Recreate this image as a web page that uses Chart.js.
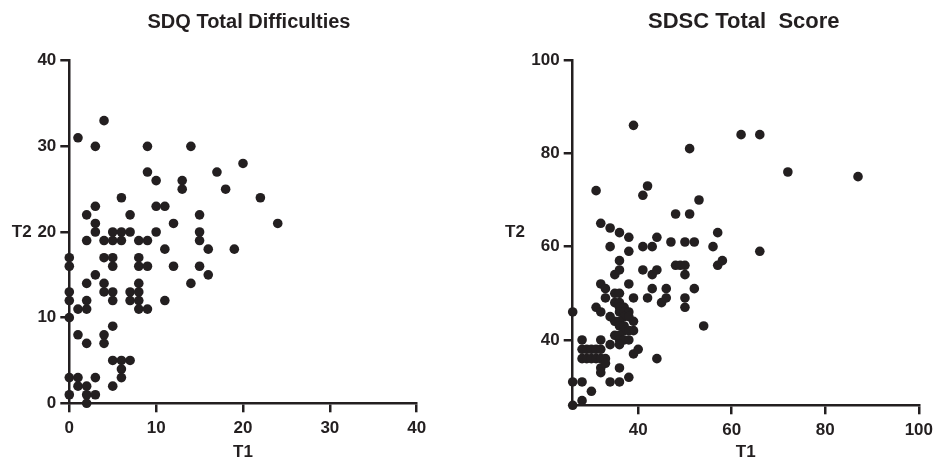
<!DOCTYPE html>
<html><head><meta charset="utf-8">
<script src="https://cdn.jsdelivr.net/npm/chart.js@4.4.1/dist/chart.umd.min.js"></script>
<style>
html,body{margin:0;padding:0;background:#fff;overflow:hidden;width:939px;height:460px;}
.box{position:absolute;top:0;height:460px;}
#b1{left:0;width:470px}
#b2{left:470px;width:469px}
</style></head><body>
<div class="box" id="b1"><canvas id="c1" width="470" height="460"></canvas></div>
<div class="box" id="b2"><canvas id="c2" width="469" height="460"></canvas></div>
<script>
// ---- SDQ Total Difficulties ----
const sdqTitle = 'SDQ Total Difficulties';
const sdqT1 = [1,4,3,9,14,9,10,13,13,17, 18,20,22,24,6,3,2,3,3,7, 10,11,12,15,15,15,16,19,16,15,
  12,14,5,6,7,10,2,4,5,6, 8,9,11,0,0,4,5,5,8,8, 9,3,2,4,4,5,5,8,7,8, 7,8,8,9,11,0,0,1,2,2,
  0,5,1,2,4,4,5,6,7,6, 6,5,0,1,3,1,2,0,2,3, 2];
const sdqT2 = [31,33,30,30,30,27,26,26,25,27, 25,28,24,21,24,23,22,21,20,22, 23,23,21,22,20,19,18,18,15,16,
  16,14,20,20,20,20,19,19,19,19, 19,19,18,17,16,17,17,16,17,16, 16,15,14,14,13,13,12,14,13,13,
  12,12,11,11,12,13,12,11,11,12, 10,9,8,7,8,7,5,5,5,4, 3,2,3,3,3,2,2,1,1,1, 0];
const sdqXTicks = [0,10,20,30,40];
const sdqYTicks = [0,10,20,30,40];

// ---- SDSC Total Score ----
const sdscTitle = 'SDSC Total  Score';
const sdscT1 = [31,39,51,42,41,53,48,51,32,34, 36,38,44,34,41,43,47,50,52,56, 57,38,36,62,66,72,87,66,57,58,
  50,50,52,50,50,54,35,36,41,43, 44,48,49,32,33,38,43,46,45,46, 42,39,33,35,36,31,32,26,26,28,
  30,26,28,28,32,28,29,30,31,32, 28,29,30,31,32,33,32,32,34,36, 38,36,33,39,40,44,39,39,35,36,
  36,37,36,37,38,37,38,35,36,36, 37,37,38,35,36,36,37,36,34,34, 38];
const sdscT2 = [72,86,81,73,71,70,67,67,65,64, 63,62,62,60,60,60,61,61,61,60, 63,59,57,84,84,76,75,59,56,57,
  56,54,51,49,47,43,54,55,55,54, 55,56,56,52,51,52,51,51,48,49, 49,49,49,50,50,47,46,46,31,31,
  29,26,27,40,40,38,38,38,38,38, 36,36,36,36,36,36,34,33,31,31, 32,34,35,37,38,36,44,42,48,48,
  47,47,46,46,46,45,45,44,44,43, 43,42,42,41,41,40,40,39,39,45, 40];
const sdscXTicks = [40,60,80,100];
const sdscYTicks = [40,60,80,100];

const FONT = '"Liberation Sans", Arial, Helvetica, sans-serif';
const INK = '#231f20';

const decor = {
  id: 'decor',
  afterDraw(chart, args, o) {
    const {ctx, chartArea: a} = chart;
    ctx.save();
    ctx.fillStyle = INK;
    ctx.textAlign = 'center';
    ctx.textBaseline = 'middle';
    ctx.font = 'bold ' + o.titleSize + 'px ' + FONT;
    ctx.fillText(o.title, (a.left + a.right) / 2 + o.titleDx, o.titleY);
    ctx.font = 'bold 17px ' + FONT;
    ctx.fillText(o.yTitle, o.yTitleX, (a.top + a.bottom) / 2);
    ctx.restore();
  }
};

function makeChart(id, c) {
  const H = 460;
  const pts = c.xs.map((x, i) => ({x: x, y: c.ys[i]}));
  const tickFont = {family: FONT, size: 17, weight: 'bold'};
  const axis = (min, max, ticks, fit, pad, extra) => Object.assign({
    type: 'linear', min: min, max: max,
    afterBuildTicks: s => { s.ticks = ticks.map(v => ({value: v})); },
    afterFit: fit,
    grid: {display: true, drawOnChartArea: false, drawTicks: true, tickLength: 9, lineWidth: 2.5, color: INK},
    border: {display: true, color: INK, width: 2.5},
    ticks: {color: INK, font: tickFont, padding: pad, maxRotation: 0, autoSkip: false}
  }, extra);
  new Chart(document.getElementById(id), {
    type: 'scatter',
    data: {datasets: [{data: pts, backgroundColor: INK, borderWidth: 0, pointRadius: 4.8, clip: false}]},
    plugins: [decor],
    options: {
      responsive: false, animation: false, devicePixelRatio: 1,
      layout: {padding: {top: c.area.top, right: c.W - c.area.right, bottom: 0, left: 0}},
      plugins: {legend: {display: false}, tooltip: {enabled: false},
        decor: {title: c.title, titleSize: c.titleSize, titleDx: c.titleDx, titleY: 22, yTitle: 'T2', yTitleX: c.yTitleX}},
      scales: {
        x: axis(c.xmin, c.xmax, c.xt, s => { s.height = H - c.area.bottom; }, 6,
          {title: {display: true, text: 'T1', color: INK, font: tickFont, padding: {top: 0, bottom: -3}}}),
        y: axis(c.ymin, c.ymax, c.yt, s => { s.width = c.area.left; }, 4, {})
      }
    }
  });
}

makeChart('c1', {W: 470, xs: sdqT1, ys: sdqT2, xt: sdqXTicks, yt: sdqYTicks,
  xmin: 0, xmax: 40, ymin: 0, ymax: 40,
  area: {left: 69.3, right: 416.7, top: 60.7, bottom: 403.3},
  title: sdqTitle, titleSize: 20, titleDx: 6, yTitleX: 21.7});
makeChart('c2', {W: 469, xs: sdscT1, ys: sdscT2, xt: sdscXTicks, yt: sdscYTicks,
  xmin: 26, xmax: 100, ymin: 26, ymax: 100,
  area: {left: 102.7, right: 450.7, top: 60, bottom: 405.3},
  title: sdscTitle, titleSize: 22, titleDx: -2, yTitleX: 45});
</script>
</body></html>
